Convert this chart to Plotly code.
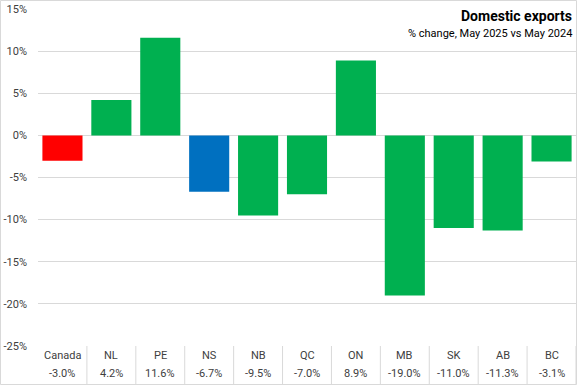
import plotly.graph_objects as go

categories = ["Canada", "NL", "PE", "NS", "NB", "QC", "ON", "MB", "SK", "AB", "BC"]
values = [-3.0, 4.2, 11.6, -6.7, -9.5, -7.0, 8.9, -19.0, -11.0, -11.3, -3.1]
colors = ["#FF0000", "#00B050", "#00B050", "#0070C0", "#00B050", "#00B050",
          "#00B050", "#00B050", "#00B050", "#00B050", "#00B050"]
tick_vals = [-25, -20, -15, -10, -5, 0, 5, 10, 15]
tick_text = [f"{v}%" for v in tick_vals]

W, H = 577, 385
ml, mr, mt, mb = 38, 1, 9, 39
pw, ph = W - ml - mr, H - mt - mb

xs = list(range(len(categories)))
fig = go.Figure(go.Bar(x=xs, y=values, marker=dict(color=colors, line=dict(width=0)),
                       width=0.82, hoverinfo="skip"))

font = "Roboto, Liberation Sans, Arial, sans-serif"
grid = "#D9D9D9"
txt = "#404040"

shapes = []
annotations = []
for i, (c, v) in enumerate(zip(categories, values)):
    annotations.append(dict(x=i, y=-10 / ph, xref="x", yref="paper", text=c, showarrow=False,
                            font=dict(size=11, color=txt, family=font), xanchor="center", yanchor="middle"))
    annotations.append(dict(x=i, y=-27 / ph, xref="x", yref="paper", text=f"{v:.1f}%", showarrow=False,
                            font=dict(size=11, color=txt, family=font), xanchor="center", yanchor="middle"))
    if i > 0:
        shapes.append(dict(type="line", xref="x", yref="paper", x0=i - 0.5, x1=i - 0.5,
                           y0=0, y1=-38 / ph, line=dict(color=grid, width=1)))
# table right edge
shapes.append(dict(type="line", xref="paper", yref="paper", x0=1, x1=1, y0=0, y1=-38 / ph,
                   line=dict(color=grid, width=1)))
# outer border of chart
shapes.append(dict(type="rect", xref="paper", yref="paper", x0=-(ml - 0.5) / pw, x1=1 + (mr - 0.5) / pw,
                   y0=-(mb - 0.5) / ph, y1=1 + (mt - 0.5) / ph, line=dict(color=grid, width=1)))

annotations.append(dict(x=1 + (mr - 3) / pw, y=1 + (mt - 6) / ph, xref="paper", yref="paper",
                        text="<b>Domestic exports</b>", showarrow=False, xanchor="right", yanchor="top",
                        font=dict(size=14, color="#000000", family=font)))
annotations.append(dict(x=1 + (mr - 3) / pw, y=1 + (mt - 25) / ph, xref="paper", yref="paper",
                        text="% change, May 2025 vs May 2024", showarrow=False, xanchor="right", yanchor="top",
                        font=dict(size=11, color="#000000", family=font)))

fig.update_layout(
    width=W, height=H, margin=dict(l=ml, r=mr, t=mt, b=mb),
    paper_bgcolor="white", plot_bgcolor="white", showlegend=False,
    bargap=0.18, shapes=shapes, annotations=annotations,
    xaxis=dict(range=[-0.5, len(categories) - 0.5], showticklabels=False, showgrid=False,
               zeroline=False, showline=False, fixedrange=True),
    yaxis=dict(range=[-25, 15], tickvals=tick_vals, ticktext=tick_text, showgrid=True, gridcolor=grid,
               gridwidth=1, zeroline=True, zerolinecolor=grid, zerolinewidth=1, showline=False,
               tickfont=dict(size=11, color=txt, family=font), ticklabelstandoff=10, fixedrange=True),
)
fig.write_html("out.html", config={"displayModeBar": False},
               post_script="document.body.style.margin='0';document.body.style.overflow='hidden';")
